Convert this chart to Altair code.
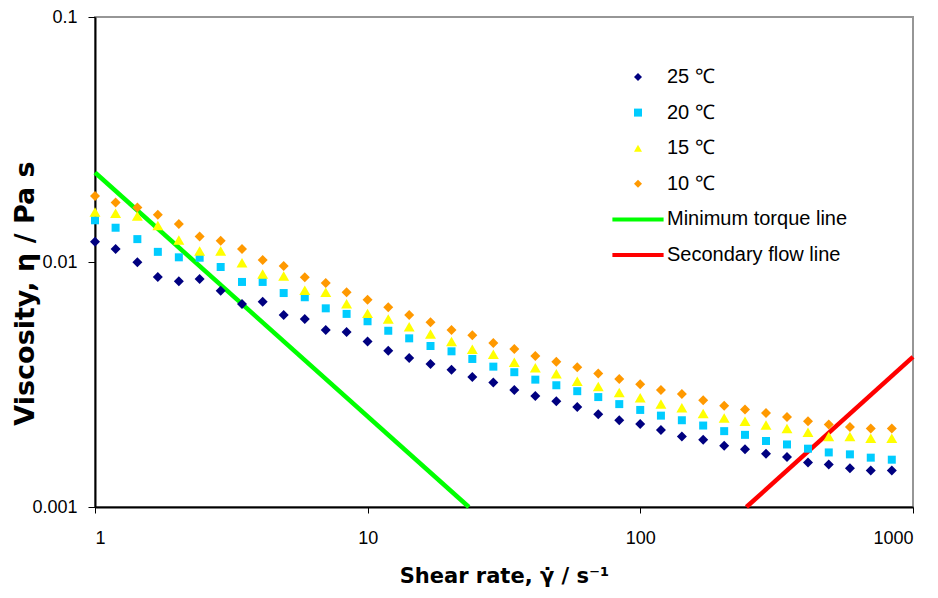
import altair as alt
import pandas as pd

# Shear rate (1/s) of the measured points
shear = [1.00, 1.19, 1.43, 1.70, 2.03, 2.42, 2.89, 3.46, 4.12, 4.92, 5.88, 7.02, 8.37, 9.99,
         11.9, 14.2, 17.0, 20.3, 24.2, 28.9, 34.5, 41.2, 49.2, 58.7, 70.1, 83.7, 99.9,
         119, 142, 170, 203, 242, 289, 345, 412, 491, 587, 700, 836]

# Viscosity (Pa s) per temperature
v25 = [0.0121, 0.0113, 0.00997, 0.00868, 0.00834, 0.00852, 0.00764, 0.00674, 0.00689, 0.00608,
       0.00585, 0.00528, 0.00518, 0.00474, 0.00434, 0.00406, 0.00383, 0.00363, 0.00339, 0.00322,
       0.00300, 0.00284, 0.00270, 0.00256, 0.00239, 0.00226, 0.00218, 0.00206, 0.00194, 0.00188,
       0.00178, 0.00172, 0.00165, 0.00160, 0.00152, 0.00149, 0.00144, 0.00141, 0.00141]
v20 = [0.0148, 0.0138, 0.0124, 0.0110, 0.01045, 0.01041, 0.00954, 0.00829, 0.00829, 0.00747,
       0.00718, 0.00647, 0.00614, 0.00573, 0.00524, 0.00488, 0.00454, 0.00432, 0.00402, 0.00374,
       0.00355, 0.00331, 0.00314, 0.00297, 0.00281, 0.00263, 0.00249, 0.00236, 0.00226, 0.00215,
       0.00204, 0.00197, 0.00186, 0.00180, 0.00173, 0.00167, 0.00164, 0.00159, 0.00156]
v15 = [0.0160, 0.0158, 0.0154, 0.0141, 0.0123, 0.0111, 0.0111, 0.00993, 0.00894, 0.00877,
       0.00766, 0.00752, 0.00676, 0.00617, 0.00585, 0.00544, 0.00508, 0.00474, 0.00440, 0.00420,
       0.00390, 0.00370, 0.00350, 0.00326, 0.00310, 0.00293, 0.00279, 0.00263, 0.00254, 0.00241,
       0.00231, 0.00224, 0.00216, 0.00209, 0.00202, 0.00194, 0.00194, 0.00191, 0.00191]
v10 = [0.0186, 0.0175, 0.0167, 0.0156, 0.0143, 0.0127, 0.0122, 0.0113, 0.0102, 0.00963,
       0.00866, 0.00821, 0.00752, 0.00702, 0.00653, 0.00608, 0.00567, 0.00528, 0.00502, 0.00467,
       0.00441, 0.00413, 0.00392, 0.00372, 0.00351, 0.00333, 0.00317, 0.00300, 0.00289, 0.00273,
       0.00259, 0.00250, 0.00242, 0.00233, 0.00224, 0.00217, 0.00212, 0.00209, 0.00209]

# Limit lines
torque_x = [1.0, 23.5]
torque_y = [0.0232, 0.001]
secondary_x = [245.0, 1000.0]
secondary_y = [0.001, 0.0041]

series_names = ["25 ℃", "20 ℃", "15 ℃", "10 ℃"]
line_names = ["Minimum torque line", "Secondary flow line"]
domain = series_names + line_names
colors = ["#000080", "#00CCFF", "#FFFF00", "#FF9900", "#00FF00", "#FF0000"]
line_path = "M-6.4,-0.5H6.4V0.5H-6.4Z"
shapes = ["diamond", "square", "triangle-up", "diamond", line_path, line_path]
marker_sizes = [100, 64, 120, 100]

rows = []
for k, (name, vals) in enumerate(zip(series_names, [v25, v20, v15, v10])):
    for x, y in zip(shear, vals):
        rows.append({"shear": x, "visc": y, "series": name, "msize": marker_sizes[k], "order": k})
pts = pd.DataFrame(rows)

lines = pd.DataFrame({
    "shear": torque_x + secondary_x,
    "visc": torque_y + secondary_y,
    "series": [line_names[0]] * 2 + [line_names[1]] * 2,
})

xscale = alt.Scale(type="log", domain=[1, 1000], nice=False)
yscale = alt.Scale(type="log", domain=[0.001, 0.1], nice=False)

x_enc = alt.X("shear:Q", scale=xscale, axis=alt.Axis(
    values=[1, 10, 100, 1000], format="~g", title="Shear rate, γ̇ / s⁻¹",
    grid=False, tickSize=6, labelPadding=16, titleFontSize=21,
    titleX=409, titleY=75, titleBaseline="alphabetic", titleAlign="center"))
y_enc = alt.Y("visc:Q", scale=yscale, axis=alt.Axis(
    values=[0.001, 0.01, 0.1], format="~g", title="Viscosity, η / Pa s",
    grid=False, tickSize=7, labelPadding=11, titleFontSize=27,
    titleX=-62, titleY=276, titleBaseline="alphabetic", titleAlign="center", titleAngle=270))

leg = alt.Legend(title=None, orient="none", legendX=533, legendY=50, padding=0,
                 symbolSize=64, symbolStrokeWidth=0, labelFontSize=20,
                 labelFont="Liberation Sans", labelColor="black", labelOffset=19,
                 rowPadding=15.6, labelLimit=400)

line_layer = alt.Chart(lines).mark_line(strokeWidth=4.5).encode(
    x=x_enc, y=y_enc,
    stroke=alt.Stroke("series:N", scale=alt.Scale(domain=line_names, range=["#00FF00", "#FF0000"]), legend=None),
)

point_layer = alt.Chart(pts).mark_point(filled=True, opacity=1).encode(
    x=x_enc, y=y_enc,
    color=alt.Color("series:N", scale=alt.Scale(domain=domain, range=colors), legend=leg),
    shape=alt.Shape("series:N", scale=alt.Scale(domain=domain, range=shapes), legend=leg),
    size=alt.Size("msize:Q", scale=None, legend=None),
    order=alt.Order("order:Q"),
)

chart = alt.layer(line_layer, point_layer).properties(
    width=818, height=490,
    padding={"left": 95, "top": 17, "right": 25, "bottom": 91},
    autosize="none",
    background="white",
).configure_view(
    stroke="#969696", strokeWidth=2
).configure_axis(
    domainColor="black", domainWidth=2, tickColor="black", tickWidth=1,
    labelFont="Liberation Sans", labelFontSize=18, labelColor="black",
    titleFont="DejaVu Sans", titleFontWeight="bold", titleColor="black",
)

chart.save("out.html", embed_options={"renderer": "svg", "actions": False})
